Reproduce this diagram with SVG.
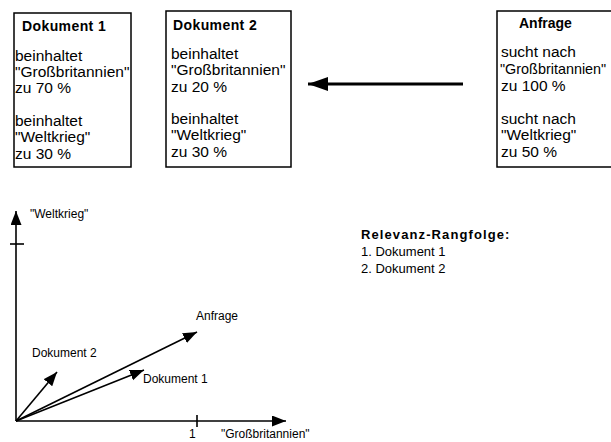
<svg xmlns="http://www.w3.org/2000/svg" width="611" height="442" viewBox="0 0 611 442">
<style>
  .box{fill:#fff;stroke:#000;stroke-width:1.5}
  .hd{font-family:"Liberation Sans",Arial,sans-serif;font-weight:bold;font-size:14px;fill:#000}
  .tx{font-family:"Liberation Sans",Arial,sans-serif;font-size:15.5px;fill:#000}
  .lb{font-family:"Liberation Sans",Arial,sans-serif;font-size:12px;fill:#000}
  .rk{font-family:"Liberation Sans",Arial,sans-serif;font-size:13px;fill:#000}
  .ln{stroke:#000;stroke-width:1.6;fill:none}
</style>
<defs>
  <marker id="ah" markerUnits="userSpaceOnUse" markerWidth="16" markerHeight="12" refX="14" refY="5.5" orient="auto">
    <path d="M0,0 L14,5.5 L0,11 z" fill="#000"/>
  </marker>
  <marker id="big" markerUnits="userSpaceOnUse" markerWidth="22" markerHeight="16" refX="20" refY="7" orient="auto">
    <path d="M0,0 L20,7 L0,14 z" fill="#000"/>
  </marker>
</defs>
<rect width="611" height="442" fill="#fff"/>

<g id="dokument1">
  <rect class="box" x="14" y="13" width="117" height="154"/>
  <text class="hd" x="22" y="31" letter-spacing="0.4">Dokument 1</text>
  <text class="tx" x="15" y="61">beinhaltet</text>
  <text class="tx" x="15" y="77">"Großbritannien"</text>
  <text class="tx" x="15" y="93">zu 70 %</text>
  <text class="tx" x="15" y="126">beinhaltet</text>
  <text class="tx" x="15" y="142">"Weltkrieg"</text>
  <text class="tx" x="15" y="159">zu 30 %</text>
</g>

<g id="dokument2">
  <rect class="box" x="166" y="11" width="125" height="156"/>
  <text class="hd" x="173" y="30" letter-spacing="0.4">Dokument 2</text>
  <text class="tx" x="171" y="59">beinhaltet</text>
  <text class="tx" x="171" y="75">"Großbritannien"</text>
  <text class="tx" x="171" y="92">zu 20 %</text>
  <text class="tx" x="171" y="124">beinhaltet</text>
  <text class="tx" x="171" y="140">"Weltkrieg"</text>
  <text class="tx" x="171" y="157">zu 30 %</text>
</g>

<g id="anfrage">
  <path class="box" d="M611,11 H497 V167 H611"/>
  <text class="hd" x="519" y="28">Anfrage</text>
  <text class="tx" x="501" y="57">sucht nach</text>
  <text class="tx" x="500" y="74" style="font-size:14.4px">"Großbritannien"</text>
  <text class="tx" x="501" y="91">zu 100 %</text>
  <text class="tx" x="501" y="124">sucht nach</text>
  <text class="tx" x="501" y="140">"Weltkrieg"</text>
  <text class="tx" x="501" y="157">zu 50 %</text>
</g>

<g id="connectors">
  <line x1="463" y1="84" x2="308" y2="84" stroke="#000" stroke-width="3" marker-end="url(#big)"/>
</g>

<g id="graph">
  <line class="ln" x1="16" y1="421" x2="16" y2="211" marker-end="url(#ah)"/>
  <line class="ln" x1="16" y1="421" x2="286" y2="421" marker-end="url(#ah)"/>
  <line class="ln" x1="10" y1="244" x2="24" y2="244"/>
  <line class="ln" x1="197" y1="415" x2="197" y2="427"/>
  <line class="ln" x1="16" y1="421" x2="197" y2="332" marker-end="url(#ah)"/>
  <line class="ln" x1="16" y1="421" x2="144" y2="370" marker-end="url(#ah)"/>
  <line class="ln" x1="16" y1="421" x2="57" y2="372" marker-end="url(#ah)"/>
  <text class="lb" x="30" y="218">"Weltkrieg"</text>
  <text class="lb" x="196" y="320">Anfrage</text>
  <text class="lb" x="32" y="357">Dokument 2</text>
  <text class="lb" x="143" y="383">Dokument 1</text>
  <text class="lb" x="189" y="438">1</text>
  <text class="lb" x="221" y="438">"Großbritannien"</text>
</g>

<g id="rangfolge">
  <text class="rk" x="361" y="239" font-weight="bold" letter-spacing="1.1">Relevanz-Rangfolge:</text>
  <text class="rk" x="361" y="256">1. Dokument 1</text>
  <text class="rk" x="361" y="273">2. Dokument 2</text>
</g>
</svg>
